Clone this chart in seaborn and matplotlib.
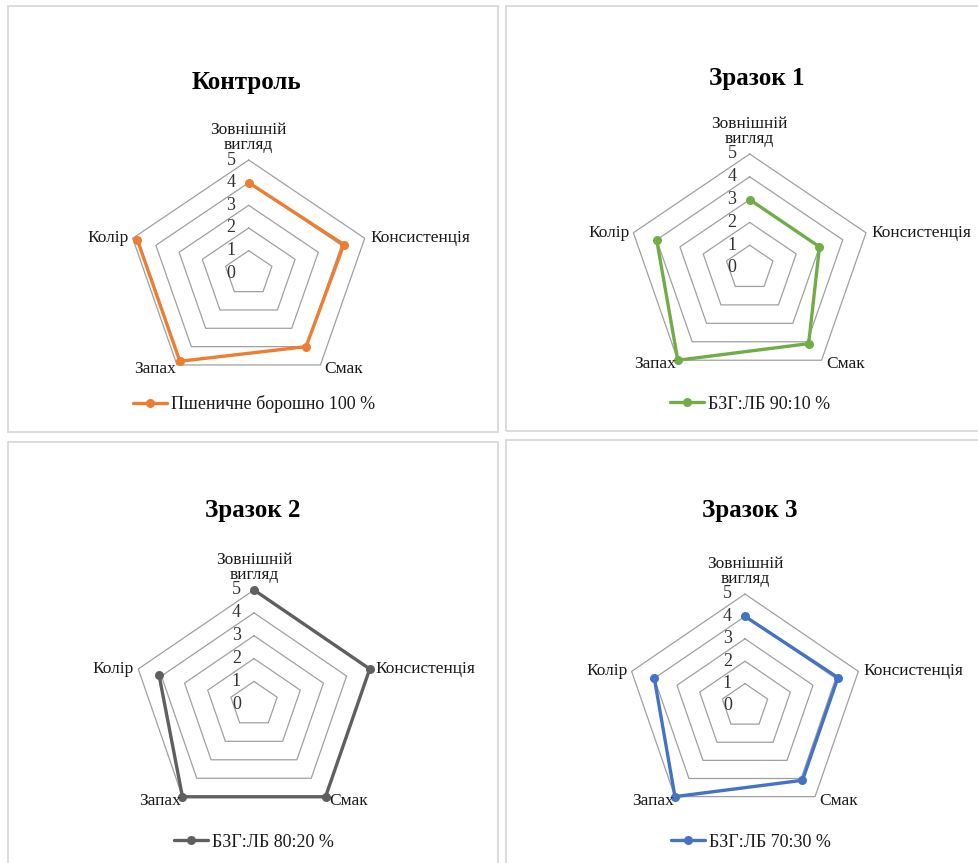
import numpy as np
import pandas as pd
import matplotlib
matplotlib.use("Agg")
import matplotlib.pyplot as plt
from matplotlib.patches import Rectangle
from matplotlib.lines import Line2D
import seaborn as sns

# ---------------- data ----------------
categories = ["Зовнішній\nвигляд", "Консистенція", "Смак", "Запах", "Колір"]
titles = ["Контроль", "Зразок 1", "Зразок 2", "Зразок 3"]
series_names = ["Пшеничне борошно 100 %", "БЗГ:ЛБ 90:10 %", "БЗГ:ЛБ 80:20 %", "БЗГ:ЛБ 70:30 %"]
control = [4.0, 4.1, 4.0, 4.8, 4.8]
sample1 = [3.0, 3.0, 4.1, 5.0, 4.0]
sample2 = [5.0, 5.0, 5.0, 5.0, 4.1]
sample3 = [4.0, 4.1, 4.1, 5.0, 4.0]
series_values = [control, sample1, sample2, sample3]
radial_ticks = [0, 1, 2, 3, 4, 5]
colors = ["#ED7D31", "#70AD47", "#5F5F5F", "#4472C4"]

# ---------------- style ----------------
sns.set_style("white")
plt.rcParams["font.family"] = ["Liberation Serif", "DejaVu Serif"]

W, H = 979, 863
fig = plt.figure(figsize=(W / 100, H / 100), dpi=100)
fig.patch.set_facecolor("white")

def fx(x):
    return x / W

def fy(y):
    return 1 - y / H

# panel frames (pixel boxes: x0, y0, x1, y1)
frames = [(8.5, 6.5, 497.5, 432), (506, 6.5, 990, 431),
          (8.5, 442, 497.5, 880), (506, 440, 990, 880)]
# radar centre and radii (px)
centres = [(248.7, 273.3, 122, 113.3), (749.7, 268, 122.3, 114),
           (254, 704.3, 121.7, 114.3), (745, 706, 119.2, 112)]
title_pos = [(247, 82), (757, 78), (253, 510), (750, 510)]
legend_pos = [(254, 404), (750, 404), (254, 842), (751, 842)]

for (x0, y0, x1, y1) in frames:
    fig.patches.append(Rectangle((fx(x0), fy(y1)), fx(x1) - fx(x0), fy(y0) - fy(y1),
                                 transform=fig.transFigure, fill=False,
                                 edgecolor="#D9D9D9", linewidth=1.3))

n = len(categories)
angles = np.arange(n) * 2 * np.pi / n
angles_closed = np.append(angles, angles[0])

label_style = [
    dict(xytext=(0, 5), ha="center", va="bottom"),
    dict(xytext=(4, 0), ha="left", va="center"),
    dict(xytext=(3, -3), ha="left", va="center"),
    dict(xytext=(-1, -3), ha="right", va="center"),
    dict(xytext=(-3, 0), ha="right", va="center"),
]

for i in range(4):
    cx, cy, rx, ry = centres[i]
    ax = fig.add_axes([fx(cx - rx), fy(cy + ry), 2 * rx / W, 2 * ry / H], projection="polar")
    ax.set_aspect("auto")
    ax.set_theta_zero_location("N")
    ax.set_theta_direction(-1)
    ax.set_ylim(0, 5)
    ax.grid(False)
    ax.spines["polar"].set_visible(False)
    ax.set_facecolor("none")

    # pentagon grid rings
    for r in radial_ticks[1:]:
        ax.plot(angles_closed, [r] * (n + 1), color="#A0A0A0", linewidth=0.9, zorder=1,
                clip_on=False)

    vals = series_values[i]
    df = pd.DataFrame({"angle": angles_closed, "value": vals + [vals[0]]})
    sns.lineplot(data=df, x="angle", y="value", sort=False, ax=ax, color=colors[i],
                 linewidth=2.4, marker="o", markersize=6.5, markeredgewidth=0,
                 zorder=3, clip_on=False)
    ax.set_xlabel("")
    ax.set_ylabel("")
    ax.set_xticks([])
    ax.set_yticks([])
    ax.set_ylim(0, 5)

    # radial tick labels
    for v in radial_ticks:
        ax.annotate(str(v), xy=(0, v), xytext=(-9.5, 0), textcoords="offset points",
                    ha="right", va="center", fontsize=13, color="#333333",
                    annotation_clip=False)

    # category labels
    for k, cat in enumerate(categories):
        ax.annotate(cat, xy=(angles[k], 5), textcoords="offset points",
                    fontsize=12.5, color="#1a1a1a", linespacing=0.95,
                    annotation_clip=False, **label_style[k])

    tx, ty = title_pos[i]
    fig.text(fx(tx), fy(ty), titles[i], ha="center", va="center",
             fontsize=18, fontweight="bold", color="black")

    handle = Line2D([], [], color=colors[i], linewidth=2.4, marker="o", markersize=6.5,
                    markeredgewidth=0)
    lx, ly = legend_pos[i]
    leg = ax.legend([handle], [series_names[i]], loc="center", bbox_to_anchor=(fx(lx), fy(ly)),
                    bbox_transform=fig.transFigure, frameon=False, fontsize=13,
                    handlelength=1.9, handletextpad=0.2, numpoints=1, borderaxespad=0)
    for t in leg.get_texts():
        t.set_color("#1a1a1a")

fig.savefig("out.png", dpi=100, facecolor="white")
